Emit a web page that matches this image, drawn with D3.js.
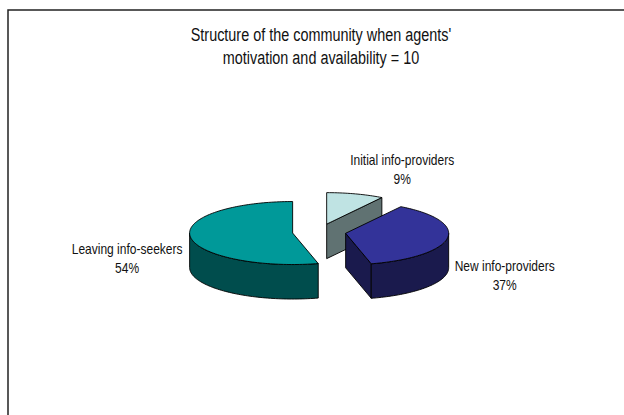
<!DOCTYPE html>
<html lang="en">
<head>
  <meta charset="UTF-8">
  <script src="https://d3js.org/d3.v7.min.js"></script>
  <title>Structure of the community</title>
  <style>
    body { margin: 0; background: #fff; }
    text { font-family: "Liberation Sans", Arial, sans-serif; fill: #111; }
  </style>
</head>
<body>
  <script>
    // data
    const categories = ["Initial info-providers", "New info-providers", "Leaving info-seekers"]
    const shares = [9, 37, 54]
    const topColors = ["#bfe3e3", "#333399", "#009999"]
    const titleLines = ["Structure of the community when agents'", "motivation and availability = 10"]

    const dimensions = {
      width: 624,
      height: 415,
      cx: 319.2,
      cy: 232,
      rx: 103,
      ry: 31.5,
      depth: 34.5,
      explode: 0.26
    }
    // label offsets from the exploded slice centre (first baseline)
    const labelOffsets = [[75.5, -59.5], [159, 37.5], [-165.5, 20.5]]
    const squeeze = 0.8

    const svg = d3.select("body")
        .append("svg")
        .attr("width", dimensions.width)
        .attr("height", dimensions.height)

    // frame (right and bottom run off the picture)
    svg.append("rect")
        .attr("x", 8)
        .attr("y", 10)
        .attr("width", 640)
        .attr("height", 440)
        .attr("fill", "#fff")
        .attr("stroke", "#222")
        .attr("stroke-width", 1.5)

    const fitText = (sel) => sel.each(function() {
      const w = this.getComputedTextLength()
      d3.select(this).attr("textLength", w * squeeze).attr("lengthAdjust", "spacingAndGlyphs")
    })

    svg.selectAll("text.title")
        .data(titleLines)
        .join("text")
        .attr("class", "title")
        .attr("x", 321)
        .attr("y", (d, i) => 41 + i * 23)
        .attr("text-anchor", "middle")
        .style("font-size", "18px")
        .text(d => d)
        .call(fitText)

    /* pie geometry */
    const pie = d3.pie().sort(null).value(d => d)
    const arcs = pie(shares)
    const { rx, ry, depth } = dimensions

    const slices = arcs.map((a, i) => {
      const mid = (a.startAngle + a.endAngle) / 2
      const c = [
        dimensions.cx + dimensions.explode * rx * Math.sin(mid),
        dimensions.cy - dimensions.explode * ry * Math.cos(mid)
      ]
      return { ...a, i, mid, c }
    })

    const pt = (c, a, z = 0) => [c[0] + rx * Math.sin(a), c[1] - ry * Math.cos(a) + z]
    const rimPoints = (c, a0, a1, z = 0) => {
      const steps = Math.max(2, Math.ceil((a1 - a0) / (Math.PI / 120)))
      return d3.range(steps + 1).map(k => pt(c, a0 + (a1 - a0) * k / steps, z))
    }
    const line = d3.line()
    const darker = (col) => {
      const c = d3.rgb(col)
      return d3.rgb(c.r * 0.5, c.g * 0.5, c.b * 0.5).formatHex()
    }

    // back to front: initial, leaving, new
    const drawOrder = [0, 2, 1]
    const pieG = svg.append("g")
        .attr("stroke", "#000")
        .attr("stroke-width", 0.9)
        .attr("stroke-linejoin", "round")

    drawOrder.forEach(idx => {
      const s = slices[idx]
      const g = pieG.append("g")
      const side = darker(topColors[idx])

      // radial faces, only the ones turned to the viewer
      const faces = [
        { a: s.startAngle, n: s.startAngle - Math.PI / 2 },
        { a: s.endAngle, n: s.endAngle + Math.PI / 2 }
      ].filter(f => -Math.cos(f.n) > 0.01)
      faces.forEach(f => {
        const pts = [[s.c[0], s.c[1]], pt(s.c, f.a), pt(s.c, f.a, depth), [s.c[0], s.c[1] + depth]]
        g.append("path").attr("d", line(pts) + "Z").attr("fill", side)
      })

      // outer wall, front half of the rim
      const w0 = Math.max(s.startAngle, Math.PI / 2)
      const w1 = Math.min(s.endAngle, Math.PI * 1.5)
      if (w1 > w0) {
        const pts = rimPoints(s.c, w0, w1).concat(rimPoints(s.c, w0, w1, depth).reverse())
        g.append("path").attr("d", line(pts) + "Z").attr("fill", side)
      }

      // top
      const topPts = [s.c].concat(rimPoints(s.c, s.startAngle, s.endAngle))
      g.append("path").attr("d", line(topPts) + "Z").attr("fill", topColors[idx])
    })

    /* data labels */
    const labels = svg.append("g")
    slices.forEach(s => {
      const x = s.c[0] + labelOffsets[s.i][0]
      const y = s.c[1] + labelOffsets[s.i][1]
      labels.selectAll(null)
          .data([categories[s.i], shares[s.i] + "%"])
          .join("text")
          .attr("x", x)
          .attr("y", (d, k) => y + k * 19.5)
          .attr("text-anchor", "middle")
          .style("font-size", "15px")
          .text(d => d)
          .call(fitText)
    })
  </script>
</body>
</html>
